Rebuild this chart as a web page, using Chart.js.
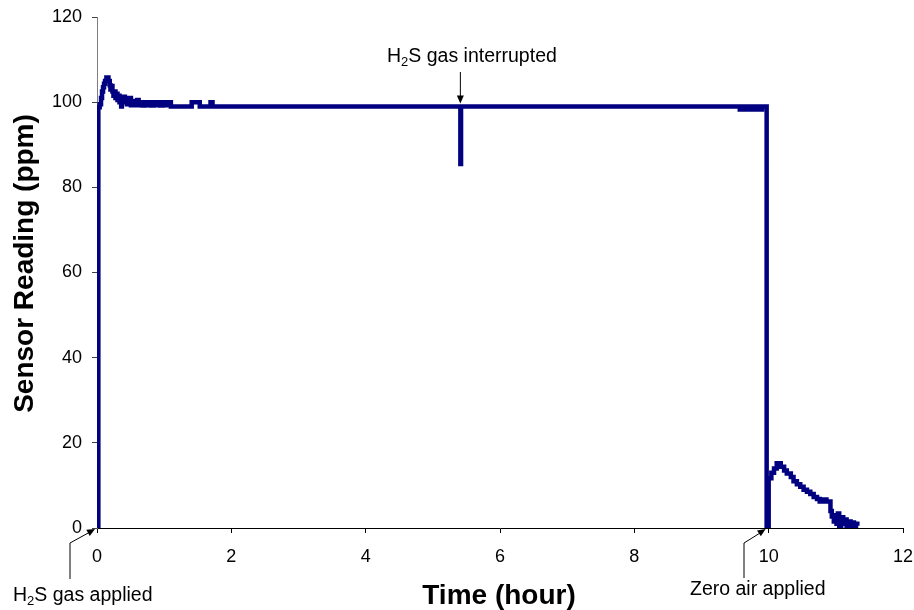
<!DOCTYPE html>
<html>
<head>
<meta charset="utf-8">
<script src="https://cdn.jsdelivr.net/npm/chart.js@4.4.1/dist/chart.umd.min.js"></script>
<style>
  html, body { margin: 0; padding: 0; background: #ffffff; }
  #wrap { width: 914px; height: 610px; position: relative; }
</style>
</head>
<body>
<div id="wrap"><canvas id="c" width="914" height="610"></canvas></div>
<script>
// ---- Data (sample-and-hold readings) ----
const hours = [
  0, 0.02, 0.04, 0.06, 0.075, 0.09, 0.105, 0.12, 0.14, 0.17, 0.19, 0.20, 0.215, 0.23, 0.245,
  0.26, 0.275, 0.29, 0.305, 0.32, 0.335, 0.35, 0.36, 0.37, 0.385, 0.40, 0.415, 0.43, 0.445,
  0.46, 0.475, 0.49, 0.505, 0.52, 0.54, 0.56, 0.58, 0.60, 0.62, 0.65, 0.68, 0.71, 0.74,
  0.77, 0.80, 0.84, 0.87, 0.91, 0.94, 0.98, 1.02, 1.06, 1.10, 1.41, 1.53, 1.69, 1.72,
  5.41, 5.42,
  9.57, 9.60, 9.64, 9.68, 9.72, 9.76, 9.80, 9.84, 9.87, 9.90,
  9.97, 10.00, 10.04, 10.08, 10.12, 10.18, 10.23, 10.27, 10.33, 10.37, 10.42, 10.47, 10.52,
  10.57, 10.62, 10.67, 10.72, 10.76, 10.80, 10.86, 10.92, 10.94, 10.97, 10.99, 11.01, 11.03,
  11.05, 11.08, 11.11, 11.14, 11.16, 11.19, 11.22, 11.25, 11.27, 11.30, 11.32
];
const ppm = [
  0, 98.8, 99.5, 101, 102.5, 103.5, 104.3, 105, 105.8, 105, 104, 103, 103.8, 102.5, 101.5,
  102.5, 101, 102, 100.5, 101.5, 100, 101, 99, 101, 100.2, 101.3, 100, 101, 99.5,
  100.8, 99.8, 101, 99.3, 100.3, 99.3, 100.2, 99.3, 100.5, 99.3, 100, 99.2, 100, 99.3,
  100, 99.2, 100, 99.3, 100, 99.2, 100, 99.3, 100, 99, 100, 99, 100, 99,
  85.5, 99,
  98.3, 99, 98.3, 99, 98.3, 99, 98.3, 99, 98.3, 99,
  0, 11.7, 13, 14, 15.2, 14.4, 13.5, 12.8, 12, 11, 10.3, 9.7, 9,
  8.5, 8, 7.3, 6.8, 6.2, 6.7, 6.2, 4, 2.7, 1.5, 3, 1, 3.4,
  0.3, 2.5, 1, 2, 0.3, 1.5, 0.5, 1.3, 0.3, 1, 0.5
];
const xTicks = [0, 2, 4, 6, 8, 10, 12];
const yTicks = [0, 20, 40, 60, 80, 100, 120];
const xTitle = 'Time (hour)';
const yTitle = 'Sensor Reading (ppm)';

const points = hours.map((h, i) => ({ x: h, y: ppm[i] }));
const FONT = "'Liberation Sans', Arial, sans-serif";

function drawArrowHead(ctx, x0, y0, x1, y1, len, half) {
  const a = Math.atan2(y1 - y0, x1 - x0);
  ctx.beginPath();
  ctx.moveTo(x1, y1);
  ctx.lineTo(x1 - len * Math.cos(a) + half * Math.sin(a), y1 - len * Math.sin(a) - half * Math.cos(a));
  ctx.lineTo(x1 - len * Math.cos(a) - half * Math.sin(a), y1 - len * Math.sin(a) + half * Math.cos(a));
  ctx.closePath();
  ctx.fill();
}

function drawH2S(ctx, x, y, rest, size) {
  ctx.font = size + 'px ' + FONT;
  ctx.textAlign = 'left';
  ctx.textBaseline = 'alphabetic';
  ctx.fillText('H', x, y);
  let cx = x + ctx.measureText('H').width;
  ctx.font = Math.round(size * 0.68) + 'px ' + FONT;
  ctx.fillText('2', cx, y + size * 0.22);
  cx += ctx.measureText('2').width;
  ctx.font = size + 'px ' + FONT;
  ctx.fillText('S' + rest, cx, y);
}

const annot = {
  id: 'annot',
  afterDatasetsDraw(chart) {
    const ctx = chart.ctx;
    const xs = chart.scales.x, ys = chart.scales.y;
    ctx.save();
    ctx.fillStyle = '#000';
    ctx.strokeStyle = '#000';
    ctx.lineWidth = 1;

    // axis titles
    ctx.font = 'bold 28px ' + FONT;
    ctx.textAlign = 'center';
    ctx.textBaseline = 'alphabetic';
    ctx.fillText(xTitle, 499, 604);
    ctx.save();
    ctx.translate(33, 263.5);
    ctx.rotate(-Math.PI / 2);
    ctx.fillText(yTitle, 0, 0);
    ctx.restore();

    // H2S gas interrupted
    const xi = xs.getPixelForValue(5.41);
    const yi = ys.getPixelForValue(99) - 3;
    drawH2S(ctx, 387, 62, ' gas interrupted', 19.5);
    ctx.beginPath(); ctx.moveTo(xi, 72); ctx.lineTo(xi, yi - 6); ctx.stroke();
    drawArrowHead(ctx, xi, 72, xi, yi, 8, 3.5);

    // H2S gas applied
    const xa = xs.getPixelForValue(0) - 2;
    const ya = ys.getPixelForValue(0) + 1;
    drawH2S(ctx, 13, 601, ' gas applied', 19.5);
    ctx.beginPath(); ctx.moveTo(70, 579); ctx.lineTo(70, 543); ctx.lineTo(xa - 5, ya + 3); ctx.stroke();
    drawArrowHead(ctx, 70, 543, xa, ya, 8, 3.5);

    // Zero air applied
    const xz = xs.getPixelForValue(9.97) - 1;
    const yz = ys.getPixelForValue(0) + 1;
    ctx.font = '19.5px ' + FONT;
    ctx.textAlign = 'left';
    ctx.fillText('Zero air applied', 690, 595);
    ctx.beginPath(); ctx.moveTo(744, 578); ctx.lineTo(744, 543); ctx.lineTo(xz - 4, yz + 3); ctx.stroke();
    drawArrowHead(ctx, 744, 543, xz, yz, 8, 3.5);

    ctx.restore();
  }
};

new Chart(document.getElementById('c'), {
  type: 'line',
  data: {
    datasets: [{
      data: points,
      stepped: true,
      borderColor: '#000080',
      backgroundColor: '#000080',
      borderWidth: 4.5,
      pointRadius: 0,
      fill: false,
      borderJoinStyle: 'miter',
      borderCapStyle: 'butt'
    }]
  },
  options: {
    responsive: false,
    animation: false,
    events: [],
    layout: { padding: { left: 0, right: 11, top: 17, bottom: 0 } },
    plugins: { legend: { display: false }, tooltip: { enabled: false } },
    scales: {
      x: {
        type: 'linear',
        min: 0, max: 12,
        afterBuildTicks(scale) { scale.ticks = xTicks.map(v => ({ value: v })); },
        afterFit(scale) { scale.height = 82; scale.paddingLeft = 0; scale.paddingRight = 0; },
        border: { display: true, color: '#000', width: 1 },
        grid: { display: true, drawOnChartArea: false, drawTicks: true, tickLength: 5, color: '#000' },
        ticks: { color: '#000', font: { family: FONT, size: 18 }, padding: 13, maxRotation: 0 },
        title: { display: false }
      },
      y: {
        type: 'linear',
        min: 0, max: 120,
        afterBuildTicks(scale) { scale.ticks = yTicks.map(v => ({ value: v })); },
        afterFit(scale) { scale.width = 97; scale.paddingTop = 0; scale.paddingBottom = 0; },
        border: { display: true, color: '#808080', width: 1 },
        grid: { display: true, drawOnChartArea: false, drawTicks: true, tickLength: 5, color: '#404040' },
        ticks: { color: '#000', font: { family: FONT, size: 18 }, padding: 10 },
        title: { display: false }
      }
    }
  },
  plugins: [annot]
});
</script>
</body>
</html>
